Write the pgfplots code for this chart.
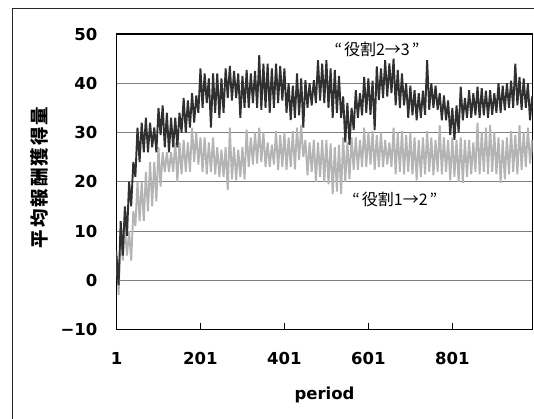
\documentclass[border=0pt]{standalone}
\usepackage{pgfplots}
\pgfplotsset{compat=1.18}
\usepackage{pgfplotstable}
\usepackage{fontspec}
\setmainfont{DejaVu Sans}
\newfontfamily\cjk{Noto Sans CJK JP}
\definecolor{darkser}{RGB}{48,48,48}
\definecolor{lightser}{RGB}{180,180,180}
\definecolor{gridc}{RGB}{128,128,128}
\pgfplotstableread{
p D L
1 5 6
6 -1 -3
11 12 10
16 5 4
21 15 11
26 9 5
31 20 10
36 15 4
41 24 14
46 21 11
51 31 20
56 24 12
61 32 20
66 26 12
71 33 22
76 26 14
81 32 24
86 27 15
91 31 24
96 26 16
101 35 27
106 29.5 19
111 35.5 26
116 27 22
121 34 26
126 26 22
131 33 26
136 27 22
141 33 28
146 27 20
151 34 28
156 30 21.5
161 37 28.5
166 30 22
171 36.5 28
176 31 22
181 38 31
186 32 24
191 37.5 30
196 34 23.5
201 43 29
206 35 22
211 42 29
216 36 21.5
221 41 28
226 31 22
231 42 29
236 34 21.5
241 42 27
246 33 21
251 41 26.5
256 34 21
261 43 27
266 37 18.3
271 43.5 31
276 36.5 20.5
281 42.5 27
286 37 20.3
291 42 26.5
296 33 21
301 41.5 27
306 35 20.5
311 42.7 30.6
316 35 23
321 42 29
326 36 23.5
331 42.5 30
336 35 23.7
341 45.7 31
346 34.6 24
351 44 30
356 35 23
361 44 28
366 34 23
371 43 27.5
376 35 23.5
381 44 30.3
386 36 22.4
391 43.5 29.5
396 36.5 23
401 43 30
406 34 22.4
411 40 29
416 32.5 23
421 39.5 30.3
426 33 22.5
431 42 31
436 33.5 24.4
441 41 31.5
446 31 25
451 40.6 28.5
456 35 21.3
461 40 28
466 35.5 22
471 40.6 28.5
476 36 20
481 44.7 28
486 36.5 21
491 44 28.5
496 36 20
501 44.7 28.5
506 35 19.5
511 43 27.8
516 33 17.5
521 42.7 27
526 34 18
531 41.5 27.5
536 33 17.5
541 37.3 29
546 28 20
551 36 28
556 27.5 20.5
561 35 29
566 30.5 22.4
571 38.6 29
576 33 22.4
581 38 28.5
586 33.5 23
591 41.3 31
596 34 23
601 41 30
606 33.6 23.5
611 40.5 30.3
616 30.5 22.4
621 43.4 29.5
626 36.6 23
631 43 30
636 37 23
641 44.7 28.5
646 37.3 23.5
651 44 28
656 38 23
661 45 31
666 35.5 21.5
671 42.7 30
676 35 22
681 42 30.3
686 35.5 21.5
691 40 29.5
696 33 22
701 39.5 30
706 33.5 21.5
711 38.6 29
716 32.5 20.3
721 38 28.5
726 33 21
731 38.5 29
736 33.6 21.5
741 44.7 30.3
746 34.6 22
751 40 29
756 35 21.3
761 39.5 28.5
766 34.6 22
771 38 31.5
776 32.5 21.5
781 37.5 29
786 32.5 22
791 36.5 28.5
796 29.5 20.3
801 35 29
806 28.5 21
811 35.5 28.5
816 30 20
821 39.3 29
826 32.5 19.8
831 37 28.5
836 33 21
841 38.6 28.5
846 33 21.5
851 38 28
856 33.5 22
861 39.3 32
866 33 21.5
871 39 30
876 33.5 22
881 38.5 31
886 33 21.5
891 38.6 31.5
896 33.6 22
901 38 30
906 34 21.5
911 40 29
916 34 19.8
921 39.5 28.5
926 34.5 20.5
931 40 29
936 35 21.5
941 40.5 30.3
946 35 22
951 44 29.5
956 35.5 21.5
961 41.3 31.5
966 34.6 22.4
971 41 30
976 35 23
981 40 31
986 32.5 23.7
991 37.3 28.5
996 33 24
}\datatable
\begin{document}
\begin{tikzpicture}[x=1pt,y=1pt]
\path[use as bounding box] (0,0) rectangle (534,418);
\clip (0,0) rectangle (534,418);
\fill[white] (0,0) rectangle (534,418);
\draw[line width=0.9pt, black!85] (12.5,-5) rectangle (545,410);
\begin{axis}[
  at={(116.5pt,88.5pt)}, anchor=south west,
  scale only axis, width=416pt, height=295.5pt,
  xmin=1, xmax=992, ymin=-10, ymax=50,
  axis line style={line width=1.4pt, black},
  xtick={1,201,401,601,801}, xticklabels={1,201,401,601,801},
  ytick={-10,0,10,20,30,40,50}, yticklabels={−10,0,10,20,30,40,50},
  xtick pos=bottom, tick align=inside, major tick length=7pt,
  xtick style={line width=1.4pt, black},
  ytick style={draw=none},
  ymajorgrids, grid style={gridc, line width=1pt},
  /pgf/number format/assume math mode=true,
  ticklabel style={font=\bfseries\fontsize{16.5}{16.5}\selectfont, inner sep=0pt},
  xticklabel style={anchor=north, yshift=-22.5pt},
  yticklabel style={anchor=east, xshift=-19pt},
  xlabel={period},
  xlabel style={at={(axis description cs:0.5,0)}, anchor=base, yshift=-69.5pt, font=\bfseries\fontsize{16.5}{16.5}\selectfont, inner sep=0pt},
  ylabel={\cjk\bfseries 平\kern2pt 均\kern2pt 報\kern2pt 酬\kern2pt 獲\kern2pt 得\kern2pt 量},
  ylabel style={at={(axis description cs:0,0.5)}, anchor=center, yshift=77pt, xshift=4.5pt, font=\fontsize{18.5}{18.5}\selectfont, inner sep=0pt},
  clip=true,
]
\addplot[lightser, line width=1.9pt, line join=bevel] table[x=p, y=L] {\datatable};
\addplot[darkser, line width=1.9pt, line join=bevel] table[x=p, y=D] {\datatable};
\node[font=\cjk\fontsize{16}{16}\selectfont, inner sep=0pt] at (axis cs:621.5,46.95) {“\kern2pt 役割2→3\kern2pt ”};
\node[font=\cjk\fontsize{16}{16}\selectfont, inner sep=0pt] at (axis cs:664,16.4) {“\kern2pt 役割1→2\kern2pt ”};
\end{axis}
\end{tikzpicture}
\end{document}
